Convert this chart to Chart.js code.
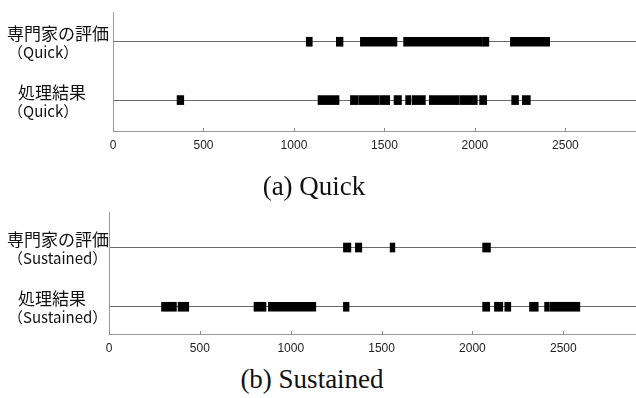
<!DOCTYPE html>
<html>
<head>
<meta charset="utf-8">
<script src="https://cdn.jsdelivr.net/npm/chart.js@4.4.1/dist/chart.umd.min.js"></script>
<style>
    html, body { margin: 0; padding: 0; background: #fff; }
    body { position: relative; width: 636px; height: 398px; overflow: hidden; }
    canvas { position: absolute; left: 0; }
    #chart-a { top: 0; }
    #chart-b { top: 200px; }
    .caption {
        position: absolute; width: 636px; text-align: center;
        font-family: "Liberation Serif", serif; font-size: 27px; line-height: 27px; color: #111;
    }
    #cap-a { top: 173px; left: -4px; }
    #cap-b { top: 366px; left: -6px; }
</style>
</head>
<body>
<canvas id="chart-a" width="636" height="155"></canvas>
<canvas id="chart-b" width="636" height="158"></canvas>
<div class="caption" id="cap-a">(a) Quick</div>
<div class="caption" id="cap-b">(b) Sustained</div>
<script>
// ============================================================
// 区間チャート（Quick / Sustained）
// ============================================================

// ─── データ ───
const rowNames   = ['専門家の評価', '処理結果'];
const rowIndex   = [0, 1];
const xTicks     = [0, 500, 1000, 1500, 2000, 2500];

// (a) Quick
const quickExpert = [
    [1068, 1101], [1234, 1271], [1367, 1569], [1606, 2040], [2042, 2077], [2196, 2413],
];
const quickResult = [
    [354, 391], [1133, 1249], [1312, 1354], [1358, 1470], [1474, 1529], [1553, 1594],
    [1617, 1645], [1652, 1726], [1748, 1912], [1916, 2013], [2026, 2065], [2203, 2241],
    [2262, 2306],
];

// (b) Sustained
const sustainedExpert = [
    [1290, 1331], [1356, 1391], [1547, 1573], [2056, 2099],
];
const sustainedResult = [
    [289, 371], [380, 439], [798, 864], [877, 1138], [1290, 1321], [2056, 2095],
    [2121, 2167], [2178, 2211], [2314, 2362], [2397, 2422], [2426, 2591],
];

// 行ラベル・目盛りの描画
const rowLabelPlugin = {
    id: 'rowLabels',
    afterDraw(chart, args, opts) {
        const { ctx, scales: { x, y } } = chart;
        ctx.save();
        // 上向きの目盛り線
        ctx.strokeStyle = '#888';
        ctx.lineWidth = 1;
        x.ticks.forEach(t => {
            const px = Math.round(x.getPixelForValue(t.value)) + 0.5;
            ctx.beginPath();
            ctx.moveTo(px, chart.chartArea.bottom);
            ctx.lineTo(px, chart.chartArea.bottom - 3);
            ctx.stroke();
        });
        // 行ラベル
        ctx.fillStyle = '#111';
        ctx.textBaseline = 'middle';
        ctx.textAlign = 'left';
        rowNames.forEach((name, i) => {
            const py = y.getPixelForValue(rowIndex[i]);
            ctx.font = '17px "Noto Sans CJK JP"';
            ctx.fillText(name, opts.mainX[i], py - 8);
            ctx.font = '15px "Noto Sans CJK JP"';
            ctx.fillText('（' + opts.sub + '）', opts.subX, py + 11);
        });
        ctx.restore();
    },
};

function makeChart(id, expert, result, sub, yWidth, xMax, yMin, yMax) {
    const ctx = document.getElementById(id).getContext('2d');
    const barStyle = {
        grouped: false,
        barThickness: 9,
        backgroundColor: '#000',
        borderColor: '#000',
        borderWidth: 0,
    };
    return new Chart(ctx, {
        type: 'bar',
        data: {
            datasets: [
                { ...barStyle, data: expert.map(s => ({ x: s, y: rowIndex[0] })) },
                { ...barStyle, data: result.map(s => ({ x: s, y: rowIndex[1] })) },
            ],
        },
        options: {
            responsive: false,
            animation: false,
            indexAxis: 'y',
            layout: { padding: { top: 12, right: 0, left: 0, bottom: 0 } },
            plugins: {
                legend: { display: false },
                tooltip: { enabled: false },
                rowLabels: { sub, mainX: [7, 18], subX: 8 },
            },
            scales: {
                x: {
                    type: 'linear',
                    min: 0,
                    max: xMax,
                    afterBuildTicks: (scale) => { scale.ticks = xTicks.map(v => ({ value: v })); },
                    afterFit: (scale) => { scale.height = 24; },
                    grid: { display: false, drawTicks: false },
                    border: { display: true, color: '#999', width: 1 },
                    ticks: {
                        padding: 7,
                        color: '#222',
                        font: { family: '"Liberation Sans", sans-serif', size: 12 },
                        maxRotation: 0,
                        callback: (v) => String(v),
                    },
                },
                y: {
                    type: 'linear',
                    reverse: true,
                    offset: false,
                    min: yMin,
                    max: yMax,
                    afterBuildTicks: (scale) => { scale.ticks = rowIndex.map(v => ({ value: v })); },
                    afterFit: (scale) => { scale.width = yWidth; },
                    grid: { display: true, offset: false, drawTicks: false, color: '#6a6a6a', lineWidth: 1 },
                    border: { display: true, color: '#999', width: 1 },
                    ticks: { display: false },
                },
            },
        },
        plugins: [rowLabelPlugin],
    });
}

makeChart('chart-a', quickExpert, quickResult, 'Quick', 113, 2890, -0.51, 1.53);
makeChart('chart-b', sustainedExpert, sustainedResult, 'Sustained', 109, 2900, -0.6, 1.46);
</script>
</body>
</html>
